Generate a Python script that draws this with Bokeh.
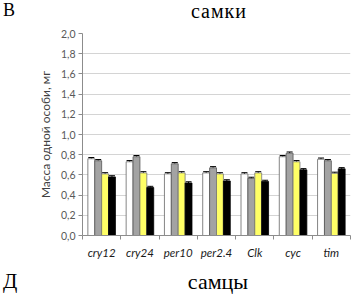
import numpy as np
from bokeh.plotting import figure
from bokeh.models import (ColumnDataSource, Range1d, FixedTicker, CustomJSTickFormatter,
                          Whisker, TeeHead, Div)
from bokeh.layouts import column
from bokeh.embed import file_html
from bokeh.resources import INLINE

categories = ["cry12", "cry24", "per10", "per2.4", "Clk", "cyc", "tim"]
s_white  = [0.76, 0.73, 0.61, 0.62, 0.61, 0.78, 0.755]
s_grey   = [0.74, 0.78, 0.71, 0.67, 0.565, 0.815, 0.74]
s_yellow = [0.61, 0.62, 0.62, 0.61, 0.62, 0.73, 0.615]
s_black  = [0.58, 0.475, 0.52, 0.54, 0.535, 0.65, 0.66]
err      = 0.012
y_ticks  = [0.0, 0.2, 0.4, 0.6, 0.8, 1.0, 1.2, 1.4, 1.6, 1.8, 2.0]
panel_top = ("В", "самки")
panel_bottom = ("Д", "самцы")
y_label = "Масса одной особи, мг"

series = [
    (s_white,  "#ffffff", "#666666"),
    (s_grey,   "#a3a3a3", "#555555"),
    (s_yellow, "#ffff66", "#777777"),
    (s_black,  "#000000", "#000000"),
]
offsets = [-0.27, -0.09, 0.09, 0.27]
bar_w = 0.18

p = figure(width=352, height=240, output_backend="svg", toolbar_location=None,
           x_range=Range1d(-0.5, 6.5), y_range=Range1d(0, 2.0),
           min_border_left=82, min_border_right=2, min_border_top=5, min_border_bottom=33,
           margin=0)
p.outline_line_color = None
p.background_fill_color = "white"
p.border_fill_color = "white"

idx = np.arange(len(categories))
for (vals, fill, line), off in zip(series, offsets):
    src = ColumnDataSource(dict(x=idx + off, top=vals,
                                up=[v + err for v in vals], lo=list(vals)))
    p.vbar(x="x", top="top", bottom=0, width=bar_w, source=src,
           fill_color=fill, line_color=line, line_width=0.8)
    w = Whisker(base="x", upper="up", lower="lo", source=src, line_color="#000000",
                line_width=1,
                upper_head=TeeHead(size=6, line_color="#000000", line_width=1),
                lower_head=None)
    p.add_layout(w)

# x axis
p.xaxis.ticker = FixedTicker(ticks=list(idx), minor_ticks=[i + 0.5 for i in range(-1, 7)])
p.xaxis.major_label_overrides = {int(i): c for i, c in zip(idx, categories)}
p.xaxis.major_tick_out = 0
p.xaxis.major_tick_in = 0
p.xaxis.minor_tick_out = 4
p.xaxis.minor_tick_in = 0
p.xaxis.minor_tick_line_color = "#8c8c8c"
p.xaxis.axis_line_color = "#8c8c8c"
p.xaxis.major_label_text_font = "Lato"
p.xaxis.major_label_text_font_style = "italic"
p.xaxis.major_label_text_font_size = "11.5px"
p.xaxis.major_label_text_color = "#1a1a1a"
p.xaxis.major_label_standoff = 6

# y axis
p.yaxis.ticker = FixedTicker(ticks=y_ticks)
p.yaxis.formatter = CustomJSTickFormatter(code="return tick.toFixed(1).replace('.', ',');")
p.yaxis.major_tick_out = 4
p.yaxis.major_tick_in = 0
p.yaxis.minor_tick_out = 0
p.yaxis.minor_tick_in = 0
p.yaxis.major_tick_line_color = "#8c8c8c"
p.yaxis.axis_line_color = "#8c8c8c"
p.yaxis.major_label_text_font = "Lato"
p.yaxis.major_label_text_font_size = "10.5px"
p.yaxis.major_label_text_color = "#595959"
p.yaxis.major_label_standoff = 3
p.yaxis.axis_label = y_label
p.yaxis.axis_label_text_font = "Lato"
p.yaxis.axis_label_text_font_style = "normal"
p.yaxis.axis_label_text_font_size = "12px"
p.yaxis.axis_label_text_color = "#404040"
p.yaxis.axis_label_standoff = 5

p.xgrid.grid_line_color = None
p.ygrid.grid_line_color = "#d4d4d4"
p.ygrid.grid_line_width = 1


def heading(letter, word, height, letter_top, letter_size, word_top, word_size,
            word_center, spacing):
    html = (
        f'<div style="position:relative;width:352px;height:{height}px;overflow:visible;'
        f'font-family:\'Liberation Serif\';color:#000;background:#fff;">'
        f'<span style="position:absolute;left:3px;top:{letter_top}px;font-size:{letter_size}px;'
        f'line-height:1;">{letter}</span>'
        f'<span style="position:absolute;left:0px;width:{2*word_center}px;text-align:center;'
        f'top:{word_top}px;font-size:{word_size}px;line-height:1;'
        f'letter-spacing:{spacing}px;">{word}</span>'
        f'</div>'
    )
    return Div(text=html, width=352, height=height, margin=0)


top_div = heading(panel_top[0], panel_top[1], 28, 1.2, 18, 1.2, 20, 219, 1)
bottom_div = heading(panel_bottom[0], panel_bottom[1], 26, 3, 21, 2.5, 22, 218, 0)

layout = column(top_div, p, bottom_div, spacing=0, margin=0)

open("out.html", "w").write(file_html(layout, INLINE))
